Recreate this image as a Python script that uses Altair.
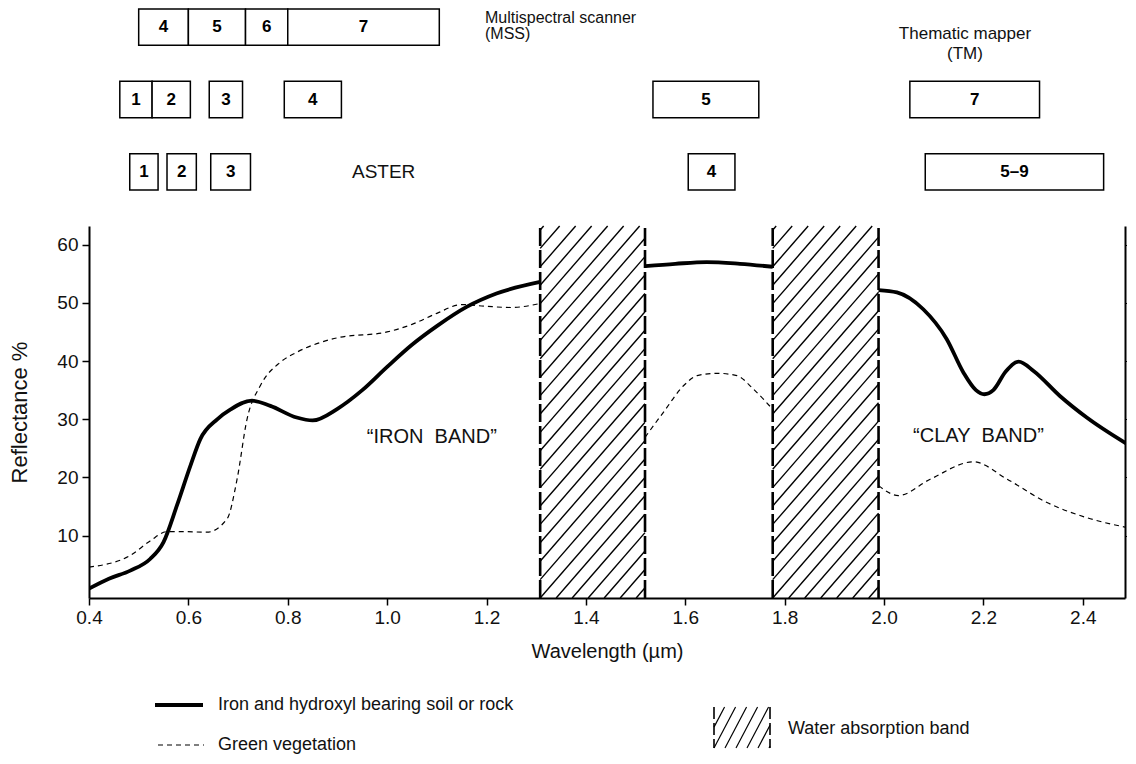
import altair as alt
import numpy as np
import pandas as pd

# ---------------- data ----------------
# Iron and hydroxyl bearing soil or rock (solid), three segments
iron_x1 = [0.40, 0.44, 0.483, 0.523, 0.55, 0.577, 0.604, 0.624, 0.658, 0.685, 0.728, 0.765,
           0.818, 0.85, 0.90, 0.95, 1.00, 1.05, 1.10, 1.16, 1.22, 1.308]
iron_y1 = [0.9, 2.6, 4.0, 6.0, 8.9, 15.2, 22.0, 26.6, 30.0, 31.7, 33.2, 32.3,
           30.3, 29.8, 31.8, 35.0, 39.0, 42.8, 46.0, 49.3, 51.6, 53.6]
iron_x2 = [1.519, 1.58, 1.643, 1.71, 1.776]
iron_y2 = [56.3, 56.7, 57.0, 56.7, 56.2]
iron_x3 = [1.989, 2.026, 2.079, 2.126, 2.16, 2.185, 2.202, 2.22, 2.245, 2.271, 2.301, 2.354,
           2.408, 2.49]
iron_y3 = [52.2, 51.8, 48.9, 43.8, 38.0, 35.0, 34.3, 35.0, 38.2, 39.9, 38.3, 34.0,
           30.3, 25.7]

# Green vegetation (dashed), three segments
veg_x1 = [0.40, 0.483, 0.523, 0.557, 0.59, 0.637, 0.678, 0.698, 0.718, 0.745, 0.785, 0.818,
          0.90, 1.00, 1.05, 1.10, 1.15, 1.20, 1.25, 1.308]
veg_y1 = [4.6, 6.6, 9.1, 10.7, 10.7, 10.6, 12.9, 19.7, 30.0, 35.8, 39.8, 41.5,
          44.0, 45.0, 46.3, 48.2, 49.7, 49.4, 49.2, 49.9]
veg_x2 = [1.519, 1.556, 1.597, 1.624, 1.664, 1.704, 1.737, 1.776]
veg_y2 = [26.9, 31.2, 35.8, 37.5, 37.9, 37.5, 35.2, 31.7]
veg_x3 = [1.989, 2.029, 2.093, 2.18, 2.248, 2.328, 2.408, 2.49]
veg_y3 = [18.6, 16.9, 19.7, 22.7, 19.7, 15.7, 13.1, 11.4]

# Water absorption bands
water_lo = [1.308, 1.776]
water_hi = [1.519, 1.989]

# Sensor bands
mss_lo = [0.50, 0.60, 0.715, 0.80]
mss_hi = [0.60, 0.715, 0.80, 1.105]
mss_lab = ["4", "5", "6", "7"]
tm_lo = [0.462, 0.527, 0.642, 0.793, 1.535, 2.052]
tm_hi = [0.527, 0.604, 0.709, 0.908, 1.748, 2.313]
tm_lab = ["1", "2", "3", "4", "5", "7"]
aster_lo = [0.482, 0.557, 0.645, 1.606, 2.083]
aster_hi = [0.539, 0.616, 0.725, 1.700, 2.442]
aster_lab = ["1", "2", "3", "4", "5–9"]

band_notes = ["“IRON\u00a0 BAND”", "“CLAY\u00a0 BAND”"]
band_note_x = [1.09, 2.19]
band_note_y = [27.0, 27.2]

x_ticks = [0.4, 0.6, 0.8, 1.0, 1.2, 1.4, 1.6, 1.8, 2.0, 2.2, 2.4]
y_ticks = [10, 20, 30, 40, 50, 60]

# ---------------- layout / style ----------------
FONT = "Liberation Sans"
XMIN, XMAX = 0.4, 2.485
YMIN, YMAX = -0.7, 63.2
W, H = 1036, 372
TOP_H = 181
LEG_H = 68

sx = W / (XMAX - XMIN)
sy = H / (YMAX - YMIN)


def hatch_segments(x0, x1, y0, y1, px_x, px_y, spacing, slope):
    """Diagonal hatch lines clipped to a rectangle (computed in pixel space)."""
    bw = (x1 - x0) * px_x
    bh = (y1 - y0) * px_y
    run = bh / slope
    rows = []
    k0 = int(np.floor(-run / spacing)) - 1
    k1 = int(np.ceil(bw / spacing)) + 1
    for k in range(k0, k1 + 1):
        c = k * spacing
        xa, xb = max(0.0, c), min(bw, c + run)
        if xb - xa < 0.5:
            continue
        ya, yb = slope * (xa - c), slope * (xb - c)
        rows.append({"x": x0 + xa / px_x, "x2": x0 + xb / px_x,
                     "y": y0 + ya / px_y, "y2": y0 + yb / px_y})
    return rows


# ---------------- tables ----------------
curve_rows = []
for name, segs in [("iron", [(iron_x1, iron_y1), (iron_x2, iron_y2), (iron_x3, iron_y3)]),
                   ("veg", [(veg_x1, veg_y1), (veg_x2, veg_y2), (veg_x3, veg_y3)])]:
    for si, (xs, ys) in enumerate(segs):
        for i, (xv, yv) in enumerate(zip(xs, ys)):
            curve_rows.append({"series": name, "seg": si, "order": i, "x": xv, "y": yv})
curves = pd.DataFrame(curve_rows)
iron_df = curves[curves.series == "iron"]
veg_df = curves[curves.series == "veg"]

hatch_rows = []
edge_rows = []
for lo, hi in zip(water_lo, water_hi):
    hatch_rows += hatch_segments(lo, hi, YMIN, YMAX, sx, sy, 16.0, 1.15)
    edge_rows += [{"x": lo, "y": YMIN, "y2": YMAX}, {"x": hi, "y": YMIN, "y2": YMAX}]
hatch_df = pd.DataFrame(hatch_rows)
edge_df = pd.DataFrame(edge_rows)

notes_df = pd.DataFrame({"x": band_note_x, "y": band_note_y, "t": band_notes})

box_rows = []
for row, los, his, labs in [("MSS", mss_lo, mss_hi, mss_lab), ("TM", tm_lo, tm_hi, tm_lab),
                            ("ASTER", aster_lo, aster_hi, aster_lab)]:
    for lo, hi, lab in zip(los, his, labs):
        box_rows.append({"row": row, "x": lo, "x2": hi, "xm": (lo + hi) / 2, "lab": lab})
boxes = pd.DataFrame(box_rows)

# ---------------- scales / encodings ----------------
xscale = alt.Scale(domain=[XMIN, XMAX], nice=False, zero=False)
yscale = alt.Scale(domain=[YMIN, YMAX], nice=False, zero=False)

x_axis = alt.Axis(values=x_ticks, format=".1f", labelFontSize=19, labelColor="#111",
                  tickSize=7, tickWidth=1.5, tickColor="#000", domainWidth=2, domainColor="#000",
                  labelPadding=3, grid=False, titleFontSize=20, titleFontWeight="normal",
                  titleColor="#111", titlePadding=14, labelFlush=False)
X = alt.X("x:Q", scale=xscale, axis=x_axis, title="Wavelength (µm)")

y_left = alt.Axis(values=y_ticks, orient="left", labelFontSize=19, labelColor="#111",
                  tickSize=7, tickWidth=1.5, tickColor="#000", domainWidth=2, domainColor="#000",
                  labelPadding=4, grid=False, title="Reflectance %", titleFontSize=22,
                  titleFontWeight="normal", titleColor="#111", titlePadding=25)
y_right = alt.Axis(values=y_ticks, orient="right", labels=False, tickSize=3, tickWidth=1.2,
                   tickColor="#000", domainWidth=2, domainColor="#000", grid=False, title="",
                   titlePadding=0, minExtent=0, maxExtent=3)

# ---------------- main plot ----------------
hatch = alt.Chart(hatch_df).mark_rule(color="#000", strokeWidth=1.4).encode(
    x=X, x2="x2:Q",
    y=alt.Y("y:Q", scale=yscale, axis=None), y2="y2:Q")

edges = alt.Chart(edge_df).mark_rule(color="#000", strokeWidth=2.6, strokeDash=[18, 4]).encode(
    x=X, y=alt.Y("y:Q", scale=yscale, axis=None), y2="y2:Q")

veg = alt.Chart(veg_df).mark_line(color="#000", strokeWidth=1.2, strokeDash=[5, 4],
                                  interpolate="monotone", clip=True).encode(
    x=X, y=alt.Y("y:Q", scale=yscale, axis=y_right), detail="seg:N", order="order:Q")

iron = alt.Chart(iron_df).mark_line(color="#000", strokeWidth=3.8,
                                    interpolate="monotone", clip=True).encode(
    x=X, y=alt.Y("y:Q", scale=yscale, axis=y_left), detail="seg:N", order="order:Q")

notes = alt.Chart(notes_df).mark_text(font=FONT, fontSize=20, color="#111",
                                      align="center", baseline="middle").encode(
    x=X, y=alt.Y("y:Q", scale=yscale, axis=None), text="t:N")

main = alt.layer(hatch, edges, veg, iron, notes).resolve_axis(y="independent").properties(
    width=W, height=H)

# ---------------- top: sensor bands ----------------
tx = alt.X("x:Q", scale=xscale, axis=None)
rowscale = alt.Scale(domain=["MSS", "TM", "ASTER"], paddingInner=0.497, paddingOuter=0)
ty = alt.Y("row:N", scale=rowscale, axis=None)

rects = alt.Chart(boxes).mark_rect(fill="white", stroke="#000", strokeWidth=1.5).encode(
    x=tx, x2="x2:Q", y=ty)
rect_labels = alt.Chart(boxes).mark_text(font=FONT, fontSize=17, fontWeight="bold",
                                         color="#000", baseline="middle").encode(
    x=alt.X("xm:Q", scale=xscale, axis=None), y=ty, text="lab:N")


def top_text(x, row, t, dy, size, align):
    return alt.Chart(pd.DataFrame({"x": [x], "row": [row], "t": [t]})).mark_text(
        font=FONT, fontSize=size, color="#111", align=align, baseline="middle", dy=dy
    ).encode(x=tx, y=ty, text="t:N")


mss_a = top_text(1.197, "MSS", "Multispectral scanner", -9, 16, "left")
mss_b = top_text(1.197, "MSS", "(MSS)", 7, 16, "left")
tm_a = top_text(2.163, "MSS", "Thematic mapper", 7, 17, "center")
tm_b = top_text(2.163, "MSS", "(TM)", 27, 17, "center")
aster_txt = top_text(0.993, "ASTER", "ASTER", 0, 19, "center")

top = alt.layer(rects, rect_labels, mss_a, mss_b, tm_a, tm_b, aster_txt).properties(
    width=W, height=TOP_H)

# ---------------- bottom: legend ----------------
lx = alt.Scale(domain=[0, W], nice=False, zero=False)
ly = alt.Scale(domain=[0, LEG_H], nice=False, zero=False, reverse=True)
LX = alt.X("x:Q", scale=lx, axis=None)
LY = alt.Y("y:Q", scale=ly, axis=None)

leg_solid = alt.Chart(pd.DataFrame({"x": [66], "x2": [114], "y": [24]})).mark_rule(
    color="#000", strokeWidth=3.8).encode(x=LX, x2="x2:Q", y=LY)
leg_dash = alt.Chart(pd.DataFrame({"x": [69], "x2": [115], "y": [64]})).mark_rule(
    color="#000", strokeWidth=1.2, strokeDash=[5, 4]).encode(x=LX, x2="x2:Q", y=LY)
leg_text = alt.Chart(pd.DataFrame({
    "x": [129, 129, 699], "y": [24, 64, 48],
    "t": ["Iron and hydroxyl bearing soil or rock", "Green vegetation", "Water absorption band"]
})).mark_text(font=FONT, fontSize=18, color="#111", align="left", baseline="middle").encode(
    x=LX, y=LY, text="t:N")
leg_box_x0, leg_box_x1, leg_box_y0, leg_box_y1 = 625, 681, 26, 67
leg_hatch_df = pd.DataFrame(hatch_segments(leg_box_x0, leg_box_x1, 0, leg_box_y1 - leg_box_y0,
                                           1.0, 1.0, 11.0, 1.9))
leg_hatch_df["y"] = leg_box_y1 - leg_hatch_df["y"]
leg_hatch_df["y2"] = leg_box_y1 - leg_hatch_df["y2"]
leg_hatch = alt.Chart(leg_hatch_df).mark_rule(color="#000", strokeWidth=1.2).encode(
    x=LX, x2="x2:Q", y=LY, y2="y2:Q")
leg_edges = alt.Chart(pd.DataFrame({"x": [leg_box_x0, leg_box_x1], "y": [leg_box_y0] * 2,
                                    "y2": [leg_box_y1] * 2})).mark_rule(
    color="#000", strokeWidth=1.6, strokeDash=[12, 4]).encode(x=LX, y=LY, y2="y2:Q")

legend = alt.layer(leg_solid, leg_dash, leg_text, leg_hatch, leg_edges).properties(
    width=W, height=LEG_H)

upper = alt.vconcat(top, main, spacing=33)
chart = alt.vconcat(upper, legend, spacing=20).properties(
    padding={"left": 0, "top": 0, "right": -2, "bottom": 0}
).configure(font=FONT, background="white").configure_view(stroke="transparent", strokeWidth=0)

chart.save("out.html", embed_options={"renderer": "svg", "actions": False})
